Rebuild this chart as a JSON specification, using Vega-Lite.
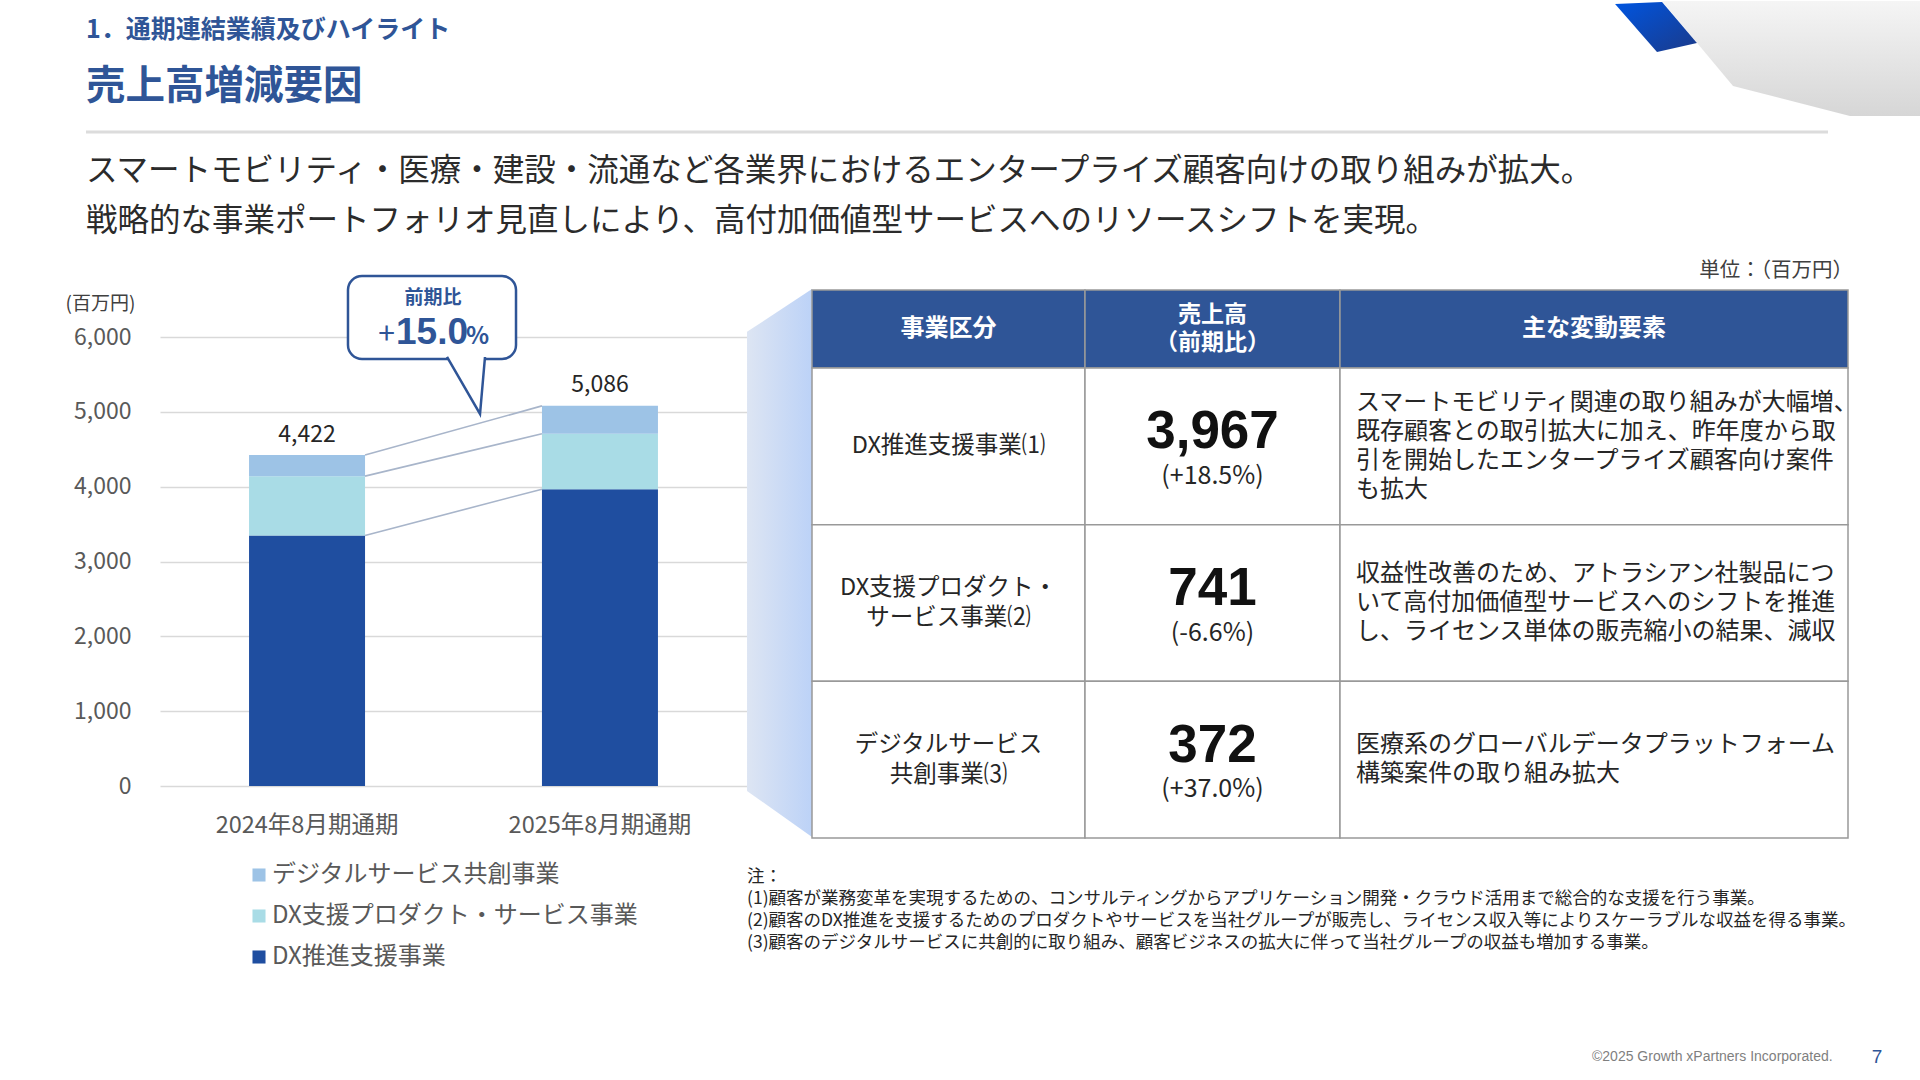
{
  "$schema": "https://vega.github.io/schema/vega-lite/v6.json",
  "background": "white",
  "padding": 0,
  "spacing": 0,
  "bounds": "full",
  "config": {
    "view": {"stroke": null},
    "font": "Noto Sans CJK JP",
    "axis": {"labelFont": "Noto Sans CJK JP", "titleFont": "Noto Sans CJK JP"},
    "legend": {"labelFont": "Noto Sans CJK JP"},
    "concat": {"spacing": 0}
  },
  "datasets": {
    "bars": [
      {"period": "2024年8月期通期", "seg": "DX推進支援事業", "ord": 1, "value": 3348},
      {"period": "2024年8月期通期", "seg": "DX支援プロダクト・サービス事業", "ord": 2, "value": 793},
      {"period": "2024年8月期通期", "seg": "デジタルサービス共創事業", "ord": 3, "value": 281},
      {"period": "2025年8月期通期", "seg": "DX推進支援事業", "ord": 1, "value": 3967},
      {"period": "2025年8月期通期", "seg": "DX支援プロダクト・サービス事業", "ord": 2, "value": 741},
      {"period": "2025年8月期通期", "seg": "デジタルサービス共創事業", "ord": 3, "value": 372}
    ],
    "totals": [
      {"period": "2024年8月期通期", "total": 4422},
      {"period": "2025年8月期通期", "total": 5086}
    ],
    "links": [
      {"from": "2024年8月期通期", "to": "2025年8月期通期", "v1": 3348, "v2": 3967},
      {"from": "2024年8月期通期", "to": "2025年8月期通期", "v1": 4141, "v2": 4708},
      {"from": "2024年8月期通期", "to": "2025年8月期通期", "v1": 4422, "v2": 5080}
    ],
    "head": [
      {"h": "head", "c1": "事業区分", "c2": "売上高\n（前期比）", "c3": "主な変動要素", "unit": "単位：（百万円）"}
    ],
    "table": [
      {"row": "DX推進支援事業", "name": "DX推進支援事業⑴", "sales": 3967, "pct": "(+18.5%)", "desc": "スマートモビリティ関連の取り組みが大幅増、\n既存顧客との取引拡大に加え、昨年度から取\n引を開始したエンタープライズ顧客向け案件\nも拡大"},
      {"row": "DX支援プロダクト・サービス事業", "name": "DX支援プロダクト・\nサービス事業⑵", "sales": 741, "pct": "(-6.6%)", "desc": "収益性改善のため、アトラシアン社製品につ\nいて高付加価値型サービスへのシフトを推進\nし、ライセンス単体の販売縮小の結果、減収"},
      {"row": "デジタルサービス共創事業", "name": "デジタルサービス\n共創事業⑶", "sales": 372, "pct": "(+37.0%)", "desc": "医療系のグローバルデータプラットフォーム\n構築案件の取り組み拡大"}
    ]
  },
  "vconcat": [
    {
      "spacing": 0, "bounds": "flush",
      "hconcat": [
        {"width": 86, "height": 115, "data": {"values": []}, "mark": "point", "encoding": {}},
        {
          "width": 1528, "height": 115,
          "data": {"values": [{"k": "h1", "text": "1．通期連結業績及びハイライト"}, {"k": "h2", "text": "売上高増減要因"}]},
          "encoding": {
            "x": {"datum": 0, "type": "quantitative", "scale": {"domain": [0, 1]}, "axis": null},
            "y": {"field": "k", "type": "nominal", "scale": {"type": "band", "domain": ["h1", "h2"], "paddingInner": 0, "paddingOuter": 0}, "axis": null},
            "text": {"field": "text"}
          },
          "layer": [
            {"transform": [{"filter": "datum.k === 'h1'"}], "mark": {"type": "text", "align": "left", "baseline": "middle", "fontSize": 25, "fontWeight": "bold", "color": "#2F5597"}},
            {"transform": [{"filter": "datum.k === 'h2'"}], "mark": {"type": "text", "align": "left", "baseline": "middle", "fontSize": 39.5, "fontWeight": "bold", "color": "#2F5597"}}
          ]
        },
        {
          "width": 306, "height": 115,
          "layer": [
            {"data": {"values": [{}]}, "mark": {"type": "point", "shape": "M-0.686,-0.376L1,-0.376L1,0.376L0.542,0.376L-0.222,0.18Z", "size": 93636, "filled": true, "opacity": 1, "strokeWidth": 0,
              "fill": {"gradient": "linear", "x1": 0, "y1": 0, "x2": 0, "y2": 1, "stops": [{"offset": 0, "color": "#F5F5F5"}, {"offset": 1, "color": "#D6D6D6"}]}}, "encoding": {}},
            {"data": {"values": [{}]}, "mark": {"type": "point", "shape": "M-0.993,-0.356L-0.686,-0.369L-0.458,-0.101L-0.719,-0.042Z", "size": 93636, "filled": true, "opacity": 1, "strokeWidth": 0,
              "fill": {"gradient": "linear", "x1": 0, "y1": 0, "x2": 1, "y2": 1, "stops": [{"offset": 0, "color": "#0055E0"}, {"offset": 1, "color": "#1A3A8A"}]}}, "encoding": {}}
          ]
        }
      ]
    },
    {
      "spacing": 0, "bounds": "flush",
      "hconcat": [
        {"width": 86, "height": 30, "data": {"values": []}, "mark": "point", "encoding": {}},
        {"width": 1742, "height": 30, "data": {"values": [{}]}, "mark": {"type": "rule", "color": "#DCDCDC", "strokeWidth": 3},
          "encoding": {"y": {"datum": 0.5, "type": "quantitative", "scale": {"domain": [0, 1]}, "axis": null}}}
      ]
    },
    {
      "spacing": 0, "bounds": "flush",
      "hconcat": [
        {"width": 86, "height": 100, "data": {"values": []}, "mark": "point", "encoding": {}},
        {
          "width": 1834, "height": 100,
          "data": {"values": [
            {"k": "b1", "text": "スマートモビリティ・医療・建設・流通など各業界におけるエンタープライズ顧客向けの取り組みが拡大。"},
            {"k": "b2", "text": "戦略的な事業ポートフォリオ見直しにより、高付加価値型サービスへのリソースシフトを実現。"}
          ]},
          "mark": {"type": "text", "align": "left", "baseline": "middle", "fontSize": 31.5, "color": "#2B2B2B"},
          "encoding": {
            "x": {"datum": 0, "type": "quantitative", "scale": {"domain": [0, 1]}, "axis": null},
            "y": {"field": "k", "type": "nominal", "scale": {"type": "band", "domain": ["b1", "b2"], "paddingInner": 0, "paddingOuter": 0}, "axis": null},
            "text": {"field": "text"}
          }
        }
      ]
    },
    {
      "spacing": 0, "bounds": "flush",
      "hconcat": [
        {"width": 160, "height": 798, "data": {"values": []}, "mark": "point", "encoding": {}},
        {
          "width": 587, "height": 539,
          "layer": [
            {
              "layer": [
                {
                  "data": {"name": "bars"},
                  "mark": {"type": "bar"},
                  "encoding": {
                    "x": {"field": "period", "type": "nominal", "scale": {"paddingInner": 0.604, "paddingOuter": 0.304},
                      "axis": {"title": null, "labelAngle": 0, "domain": false, "ticks": false, "tickSize": 0, "labelPadding": 27, "labelFontSize": 23.5, "labelLimit": 0, "labelColor": "#595959", "grid": false}},
                    "y": {"field": "value", "type": "quantitative", "stack": "zero", "scale": {"domain": [0, 7203], "nice": false},
                      "axis": {"values": [0, 1000, 2000, 3000, 4000, 5000, 6000], "labelExpr": "format(datum.value, ',')", "grid": true, "gridColor": "#D9D9D9", "gridWidth": 1.5,
                        "domain": false, "ticks": false, "tickSize": 0, "labelPadding": 29, "labelFontSize": 23, "labelColor": "#595959",
                        "title": "(百万円)", "titleAngle": 0, "titleX": -60, "titleY": 56, "titleAlign": "center", "titleBaseline": "middle",
                        "titleFontSize": 19, "titleFontWeight": "normal", "titleColor": "#404040"}},
                    "color": {"field": "seg", "type": "nominal",
                      "scale": {"domain": ["デジタルサービス共創事業", "DX支援プロダクト・サービス事業", "DX推進支援事業"], "range": ["#9DC3E6", "#A9DCE6", "#1F4EA0"]},
                      "legend": {"orient": "none", "legendX": 247, "legendY": 862, "title": null, "symbolType": "square", "symbolSize": 170,
                        "symbolStrokeWidth": 0, "labelFontSize": 24, "labelColor": "#595959", "labelLimit": 0, "rowPadding": 17, "labelOffset": 1, "padding": 0}},
                    "order": {"field": "ord", "type": "quantitative"}
                  }
                },
                {
                  "data": {"name": "links"},
                  "mark": {"type": "rule", "color": "#A8B5CA", "strokeWidth": 1.6},
                  "encoding": {
                    "x": {"field": "from", "type": "nominal", "bandPosition": 1},
                    "x2": {"field": "to", "bandPosition": 0},
                    "y": {"field": "v1", "type": "quantitative"},
                    "y2": {"field": "v2"}
                  }
                },
                {
                  "data": {"name": "totals"},
                  "mark": {"type": "text", "baseline": "bottom", "dy": -8, "fontSize": 23, "color": "#262626"},
                  "encoding": {
                    "x": {"field": "period", "type": "nominal"},
                    "y": {"field": "total", "type": "quantitative"},
                    "text": {"field": "total", "type": "quantitative", "format": ","}
                  }
                }
              ]
            },
            {
              "layer": [
                {
                  "data": {"values": [{}]},
                  "mark": {"type": "rect", "fill": "white", "stroke": "#2F5597", "strokeWidth": 2.5, "cornerRadius": 14},
                  "encoding": {
                    "x": {"datum": 0.6405, "type": "quantitative", "scale": {"domain": [0, 2]}, "axis": null},
                    "x2": {"datum": 1.213},
                    "y": {"datum": 6815, "type": "quantitative"},
                    "y2": {"datum": 5706}
                  }
                },
                {
                  "data": {"values": [{}]},
                  "mark": {"type": "point", "shape": "M-0.633,-0.983L0.467,0.917L0.633,-0.983", "size": 3600, "filled": true, "fill": "white", "stroke": "#2F5597", "strokeWidth": 2.5, "opacity": 1},
                  "encoding": {
                    "x": {"datum": 1.0426, "type": "quantitative", "scale": {"domain": [0, 2]}, "axis": null},
                    "y": {"datum": 5339, "type": "quantitative"}
                  }
                },
                {
                  "data": {"values": [{}]},
                  "mark": {"type": "text", "text": "前期比", "fontSize": 19, "fontWeight": "bold", "color": "#2F5597", "baseline": "middle"},
                  "encoding": {
                    "x": {"datum": 0.93, "type": "quantitative", "scale": {"domain": [0, 2]}, "axis": null},
                    "y": {"datum": 6521, "type": "quantitative"}
                  }
                },
                {
                  "data": {"values": [{}]},
                  "mark": {"type": "text", "text": "15.0", "fontSize": 37, "fontWeight": "bold", "font": "Liberation Sans", "color": "#2F5597", "baseline": "alphabetic"},
                  "encoding": {
                    "x": {"datum": 0.9267, "type": "quantitative", "scale": {"domain": [0, 2]}, "axis": null},
                    "y": {"datum": 5907, "type": "quantitative"}
                  }
                },
                {
                  "data": {"values": [{}]},
                  "mark": {"type": "text", "text": "+", "fontSize": 30, "color": "#2F5597", "baseline": "alphabetic"},
                  "encoding": {
                    "x": {"datum": 0.772, "type": "quantitative", "scale": {"domain": [0, 2]}, "axis": null},
                    "y": {"datum": 5907, "type": "quantitative"}
                  }
                },
                {
                  "data": {"values": [{}]},
                  "mark": {"type": "text", "text": "%", "fontSize": 24, "fontWeight": "bold", "color": "#2F5597", "baseline": "alphabetic"},
                  "encoding": {
                    "x": {"datum": 1.0818, "type": "quantitative", "scale": {"domain": [0, 2]}, "axis": null},
                    "y": {"datum": 5907, "type": "quantitative"}
                  }
                }
              ]
            }
          ],
          "resolve": {"scale": {"x": "independent"}, "axis": {"x": "independent"}}
        },
        {
          "width": 65, "height": 798,
          "layer": [
            {"data": {"values": [{}]}, "mark": {"type": "point", "shape": "M-0.091,-0.88L0.091,-1L0.091,0.535L-0.091,0.406Z", "size": 509796, "filled": true, "opacity": 1, "strokeWidth": 0,
              "fill": {"gradient": "linear", "x1": 0, "y1": 0, "x2": 1, "y2": 0, "stops": [{"offset": 0, "color": "#DDE5F3"}, {"offset": 1, "color": "#BCD2F7"}]}}, "encoding": {}},
            {
              "data": {"values": [
                {"k": "n0", "text": "注："},
                {"k": "n1", "text": "(1)顧客が業務変革を実現するための、コンサルティングからアプリケーション開発・クラウド活用まで総合的な支援を行う事業。"},
                {"k": "n2", "text": "(2)顧客のDX推進を支援するためのプロダクトやサービスを当社グループが販売し、ライセンス収入等によりスケーラブルな収益を得る事業。"},
                {"k": "n3", "text": "(3)顧客のデジタルサービスに共創的に取り組み、顧客ビジネスの拡大に伴って当社グループの収益も増加する事業。"}
              ]},
              "mark": {"type": "text", "align": "left", "baseline": "middle", "fontSize": 17.5, "color": "#262626"},
              "encoding": {
                "x": {"datum": 0, "type": "quantitative", "scale": {"domain": [0, 1]}, "axis": null},
                "y": {"field": "k", "type": "nominal", "scale": {"type": "band", "domain": ["n0", "n1", "n2", "n3"], "paddingInner": 0, "paddingOuter": 0, "range": [619, 707]}, "axis": null},
                "text": {"field": "text"}
              }
            }
          ]
        },
        {
          "width": 273, "height": 798,
          "layer": [
            {
              "data": {"name": "head"},
              "encoding": {"y": {"field": "h", "type": "nominal", "scale": {"type": "band", "domain": ["head"], "paddingInner": 0, "paddingOuter": 0, "range": [43, 121]}, "axis": null}},
              "layer": [
                {"mark": {"type": "rect", "fill": "#2F5597", "stroke": "#999999", "strokeWidth": 1.5},
                  "encoding": {"x": {"datum": 0, "type": "quantitative", "scale": {"domain": [0, 1]}, "axis": null}, "x2": {"datum": 1}}},
                {"mark": {"type": "text", "color": "white", "fontWeight": "bold", "fontSize": 24, "baseline": "middle"},
                  "encoding": {"text": {"field": "c1"}}}
              ]
            },
            {
              "data": {"name": "table"},
              "encoding": {"y": {"field": "row", "type": "nominal", "scale": {"type": "band", "domain": ["DX推進支援事業", "DX支援プロダクト・サービス事業", "デジタルサービス共創事業"], "paddingInner": 0, "paddingOuter": 0, "range": [121, 591]}, "axis": null}},
              "layer": [
                {"mark": {"type": "rect", "fill": "white", "stroke": "#999999", "strokeWidth": 1.5},
                  "encoding": {"x": {"datum": 0, "type": "quantitative", "scale": {"domain": [0, 1]}, "axis": null}, "x2": {"datum": 1}}},
                {"transform": [{"filter": "datum.row === 'DX推進支援事業'"}],
                  "mark": {"type": "text", "color": "#262626", "fontSize": 23.5, "baseline": "middle", "lineBreak": "\n", "lineHeight": 30},
                  "encoding": {"text": {"field": "name"}}},
                {"transform": [{"filter": "datum.row !== 'DX推進支援事業'"}],
                  "mark": {"type": "text", "color": "#262626", "fontSize": 23.5, "baseline": "middle", "lineBreak": "\n", "lineHeight": 30, "dy": -15},
                  "encoding": {"text": {"field": "name"}}}
              ]
            }
          ],
          "resolve": {"scale": {"y": "independent"}}
        },
        {
          "width": 255, "height": 798,
          "layer": [
            {
              "data": {"name": "head"},
              "encoding": {"y": {"field": "h", "type": "nominal", "scale": {"type": "band", "domain": ["head"], "paddingInner": 0, "paddingOuter": 0, "range": [43, 121]}, "axis": null}},
              "layer": [
                {"mark": {"type": "rect", "fill": "#2F5597", "stroke": "#999999", "strokeWidth": 1.5},
                  "encoding": {"x": {"datum": 0, "type": "quantitative", "scale": {"domain": [0, 1]}, "axis": null}, "x2": {"datum": 1}}},
                {"mark": {"type": "text", "color": "white", "fontWeight": "bold", "fontSize": 23, "baseline": "middle", "lineBreak": "\n", "lineHeight": 28, "dy": -14},
                  "encoding": {"text": {"field": "c2"}}}
              ]
            },
            {
              "data": {"name": "table"},
              "encoding": {"y": {"field": "row", "type": "nominal", "scale": {"type": "band", "domain": ["DX推進支援事業", "DX支援プロダクト・サービス事業", "デジタルサービス共創事業"], "paddingInner": 0, "paddingOuter": 0, "range": [121, 591]}, "axis": null}},
              "layer": [
                {"mark": {"type": "rect", "fill": "white", "stroke": "#999999", "strokeWidth": 1.5},
                  "encoding": {"x": {"datum": 0, "type": "quantitative", "scale": {"domain": [0, 1]}, "axis": null}, "x2": {"datum": 1}}},
                {"mark": {"type": "text", "color": "#111111", "fontSize": 53, "fontWeight": "bold", "font": "Liberation Sans", "baseline": "middle"},
                  "encoding": {"y": {"field": "row", "type": "nominal", "bandPosition": 0.41}, "text": {"field": "sales", "type": "quantitative", "format": ","}}},
                {"mark": {"type": "text", "color": "#262626", "fontSize": 25, "baseline": "middle"},
                  "encoding": {"y": {"field": "row", "type": "nominal", "bandPosition": 0.69}, "text": {"field": "pct"}}}
              ]
            }
          ],
          "resolve": {"scale": {"y": "independent"}}
        },
        {
          "width": 508, "height": 798,
          "layer": [
            {
              "data": {"name": "head"},
              "encoding": {"y": {"field": "h", "type": "nominal", "scale": {"type": "band", "domain": ["head"], "paddingInner": 0, "paddingOuter": 0, "range": [43, 121]}, "axis": null}},
              "layer": [
                {"mark": {"type": "rect", "fill": "#2F5597", "stroke": "#999999", "strokeWidth": 1.5},
                  "encoding": {"x": {"datum": 0, "type": "quantitative", "scale": {"domain": [0, 1]}, "axis": null}, "x2": {"datum": 1}}},
                {"mark": {"type": "text", "color": "white", "fontWeight": "bold", "fontSize": 24, "baseline": "middle"},
                  "encoding": {"x": {"datum": 0.5, "type": "quantitative", "scale": {"domain": [0, 1]}, "axis": null}, "text": {"field": "c3"}}},
                {"mark": {"type": "text", "color": "#404040", "fontSize": 20.5, "baseline": "middle", "align": "right"},
                  "encoding": {"x": {"datum": 1.01, "type": "quantitative", "scale": {"domain": [0, 1]}, "axis": null},
                    "y": {"field": "h", "type": "nominal", "bandPosition": -0.245}, "text": {"field": "unit"}}}
              ]
            },
            {
              "data": {"name": "table"},
              "encoding": {
                "y": {"field": "row", "type": "nominal", "scale": {"type": "band", "domain": ["DX推進支援事業", "DX支援プロダクト・サービス事業", "デジタルサービス共創事業"], "paddingInner": 0, "paddingOuter": 0, "range": [121, 591]}, "axis": null},
                "x": {"datum": 0, "type": "quantitative", "scale": {"domain": [0, 1]}, "axis": null}
              },
              "layer": [
                {"mark": {"type": "rect", "fill": "white", "stroke": "#999999", "strokeWidth": 1.5},
                  "encoding": {"x2": {"datum": 1}}},
                {"transform": [{"filter": "datum.row === 'DX推進支援事業'"}],
                  "mark": {"type": "text", "color": "#262626", "fontSize": 24, "baseline": "middle", "align": "left", "lineBreak": "\n", "lineHeight": 29, "dy": -43.5},
                  "encoding": {"x": {"datum": 0.0315, "type": "quantitative"}, "text": {"field": "desc"}}},
                {"transform": [{"filter": "datum.row === 'DX支援プロダクト・サービス事業'"}],
                  "mark": {"type": "text", "color": "#262626", "fontSize": 24, "baseline": "middle", "align": "left", "lineBreak": "\n", "lineHeight": 29, "dy": -29},
                  "encoding": {"x": {"datum": 0.0315, "type": "quantitative"}, "text": {"field": "desc"}}},
                {"transform": [{"filter": "datum.row === 'デジタルサービス共創事業'"}],
                  "mark": {"type": "text", "color": "#262626", "fontSize": 24, "baseline": "middle", "align": "left", "lineBreak": "\n", "lineHeight": 29, "dy": -14.5},
                  "encoding": {"x": {"datum": 0.0315, "type": "quantitative"}, "text": {"field": "desc"}}}
              ]
            }
          ],
          "resolve": {"scale": {"y": "independent"}}
        }
      ]
    },
    {
      "spacing": 0, "bounds": "flush",
      "hconcat": [
        {"width": 1592, "height": 24, "data": {"values": []}, "mark": "point", "encoding": {}},
        {"width": 262, "height": 24, "data": {"values": [{"t": "©2025 Growth xPartners Incorporated."}]},
          "mark": {"type": "text", "align": "left", "baseline": "middle", "fontSize": 14, "color": "#7F7F7F", "font": "Liberation Sans"},
          "encoding": {"x": {"datum": 0, "type": "quantitative", "scale": {"domain": [0, 1]}, "axis": null}, "text": {"field": "t"}}},
        {"width": 46, "height": 24, "data": {"values": [{"t": "7"}]},
          "mark": {"type": "text", "baseline": "middle", "fontSize": 19, "color": "#2F5597", "font": "Liberation Sans"},
          "encoding": {"text": {"field": "t"}}},
        {"width": 20, "height": 24, "data": {"values": []}, "mark": "point", "encoding": {}}
      ]
    }
  ]
}
